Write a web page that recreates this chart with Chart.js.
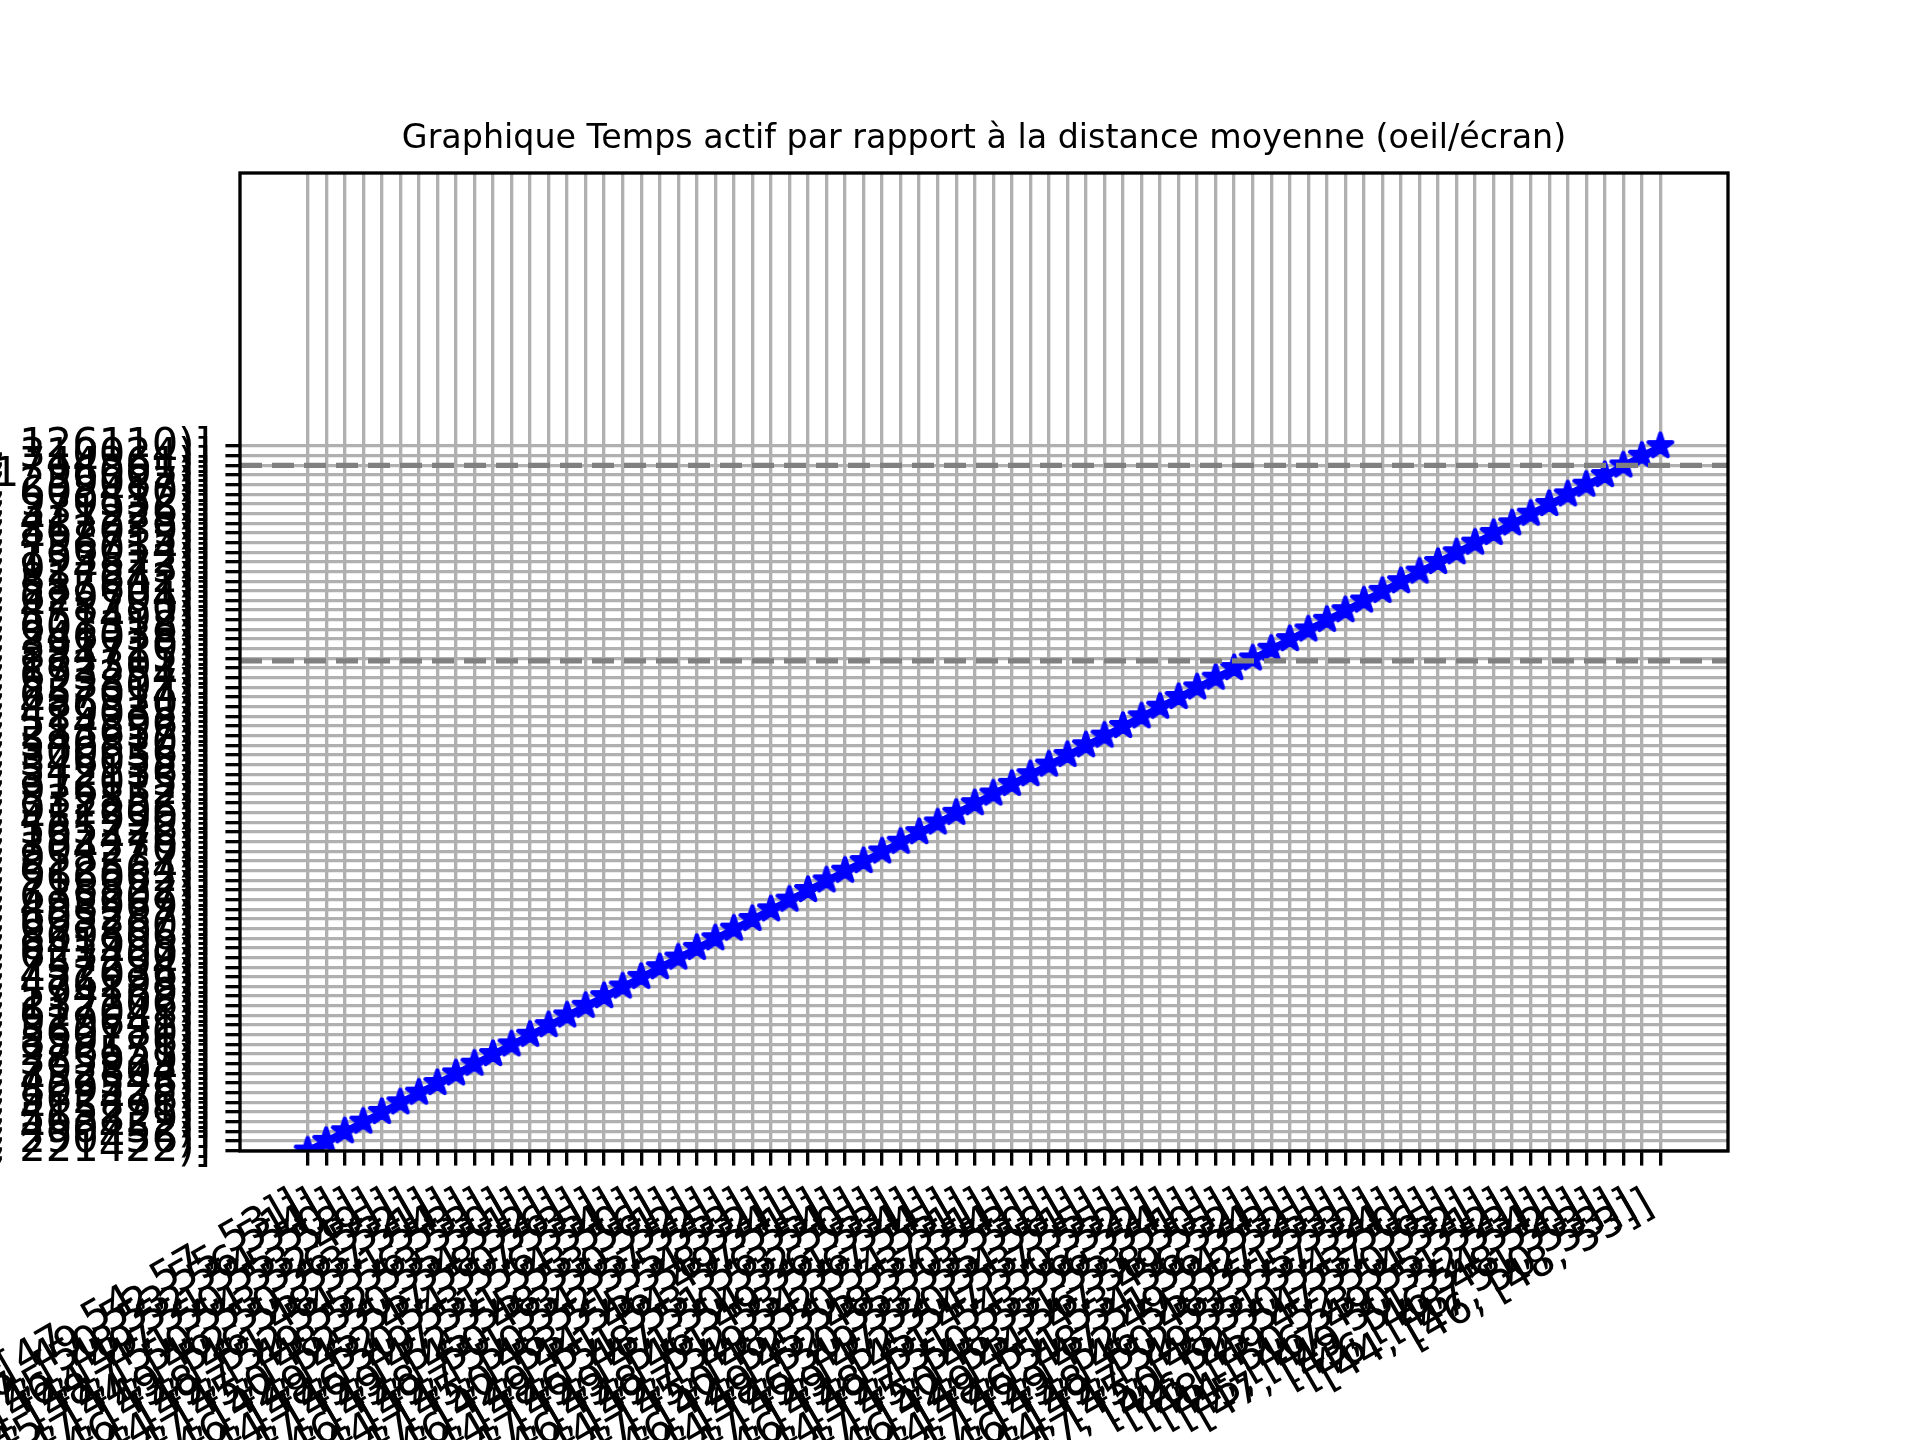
<!DOCTYPE html>
<html><head><meta charset="utf-8">
<script src="https://cdn.jsdelivr.net/npm/chart.js@4.4.1/dist/chart.umd.min.js"></script>
<style>html,body{margin:0;padding:0;background:#fff}canvas{display:block}</style>
</head><body>
<canvas id="c" width="1920" height="1440" style="width:1920px;height:1440px"></canvas>
<script>
const chartTitle = "Graphique Temps actif par rapport à la distance moyenne (oeil/écran)";

// x categories (tick labels), left to right
const xLabels = [
"[45, [47, 54, 57, 53]]","[44, [46, 49, 52, 55, 51]]","[47, [50, 53, 56, 54]]","[43, [45, 48, 52, 54, 50]]",
"[46, [49, 51, 55, 58]]","[42, [44, 47, 50, 53, 49]]","[48, [51, 54, 52, 55]]","[45, [47, 50, 53, 56, 52]]",
"[44, [46, 50, 53, 51]]","[47, [49, 52, 55, 57, 54]]","[43, [46, 48, 51, 53]]","[46, [48, 51, 54, 56, 53]]",
"[49, [52, 55, 53, 50]]","[44, [47, 49, 52, 55, 51]]","[45, [48, 50, 54, 52]]","[47, [50, 52, 55, 58, 56]]",
"[42, [45, 47, 50, 53]]","[46, [49, 52, 54, 57, 55]]","[48, [50, 53, 56, 54]]","[44, [46, 49, 51, 54, 50]]",
"[45, [47, 51, 53, 56]]","[47, [49, 52, 55, 53, 51]]","[43, [45, 48, 50, 52]]","[46, [48, 50, 53, 55, 52]]",
"[49, [51, 54, 57, 55]]","[44, [47, 50, 52, 55, 53]]","[45, [48, 51, 54, 52]]","[47, [50, 53, 55, 58, 54]]",
"[42, [44, 46, 49, 51]]","[46, [49, 51, 54, 57, 55]]","[48, [51, 53, 56, 54]]","[44, [46, 48, 51, 53, 50]]",
"[45, [47, 50, 52, 55]]","[47, [49, 51, 54, 56, 53]]","[43, [46, 49, 51, 54]]","[46, [48, 51, 53, 56, 54]]",
"[49, [52, 54, 57, 55]]","[44, [47, 49, 52, 54, 51]]","[45, [48, 50, 53, 51]]","[47, [50, 52, 55, 57, 54]]",
"[42, [45, 48, 50, 53]]","[46, [49, 52, 55, 53, 50]]","[48, [50, 53, 55, 58]]","[44, [46, 49, 52, 54, 51]]",
"[45, [47, 50, 53, 55]]","[47, [49, 52, 54, 57, 55]]","[43, [45, 47, 50, 52]]","[46, [48, 51, 54, 56, 52]]",
"[49, [51, 53, 56, 54]]","[44, [47, 50, 53, 55, 51]]","[45, [48, 51, 53, 50]]","[47, [50, 53, 56, 58, 55]]",
"[42, [44, 47, 49, 52]]","[46, [49, 51, 53, 56, 54]]","[48, [51, 54, 56, 53]]","[44, [46, 48, 51, 54, 52]]",
"[45, [47, 49, 52, 55]]","[47, [49, 52, 55, 57, 53]]","[43, [46, 48, 51, 53]]","[46, [48, 50, 53, 55, 52]]",
"[49, [52, 55, 57, 54]]","[44, [47, 49, 51, 54, 50]]","[45, [48, 50, 53, 56]]","[47, [50, 52, 54, 57, 55]]",
"[42, [45, 47, 50, 52]]","[46, [49, 52, 54, 51]]","[48, [50, 53, 55, 52]]","[44, [46, 49, 51, 53]]",
"[45, [47, 50, 52, 54]]","[47, [49, 51, 54, 52]]","[43, [46, 48, 50]]","[46, [48, 51, 53]]",
"[44, [47, 50, 53]]","[46, [48, 53]]"
];

// y categories (series values as tick labels), bottom to top
const yLabels = [
"[(38, 221422)]","[(41, 290456)]","[(36, 490452)]","[(44, 563829)]","[(39, 415291)]","[(47, 562476)]",
"[(42, 809525)]","[(35, 452548)]","[(46, 792804)]","[(40, 385929)]","[(43, 276551)]","[(37, 839176)]",
"[(45, 560780)]","[(41, 929641)]","[(48, 617048)]","[(39, 132206)]","[(44, 594169)]","[(36, 476298)]",
"[(47, 452036)]","[(42, 757294)]","[(38, 623400)]","[(45, 641998)]","[(40, 869806)]","[(43, 693260)]",
"[(37, 605287)]","[(46, 498969)]","[(41, 635207)]","[(44, 718822)]","[(39, 966062)]","[(47, 612564)]",
"[(42, 958237)]","[(36, 304270)]","[(45, 192476)]","[(40, 565226)]","[(43, 451990)]","[(38, 912206)]",
"[(46, 532852)]","[(41, 976132)]","[(44, 312015)]","[(37, 542136)]","[(47, 346055)]","[(42, 300636)]",
"[(39, 546810)]","[(45, 283657)]","[(40, 514396)]","[(43, 429035)]","[(38, 486320)]","[(46, 657014)]",
"[(41, 523807)]","[(44, 693254)]","[(36, 172301)]","[(47, 884715)]","[(42, 391720)]","[(39, 246038)]",
"[(45, 603318)]","[(40, 551492)]","[(43, 478250)]","[(37, 629704)]","[(46, 585601)]","[(41, 817642)]",
"[(44, 924573)]","[(38, 193822)]","[(47, 756014)]","[(42, 498715)]","[(39, 862039)]","[(45, 417223)]",
"[(40, 331926)]","[(43, 970532)]","[(36, 608410)]","[(46, 259087)]","[(41, 96005)]","[(44, 744361)]",
"[(48, 310024)]","[(52, 126110)]"
];

// dashed reference lines (y positions on the category axis)
const refLines = [71, 50.75];

const starImg = (() => {
  const c = document.createElement('canvas');
  c.width = 36; c.height = 36;
  const g = c.getContext('2d');
  const R = 12.5, r = R * 0.381966, cx = 18, cy = 18;
  g.beginPath();
  for (let k = 0; k < 10; k++) {
    const a = -Math.PI / 2 + k * Math.PI / 5;
    const rr = k % 2 === 0 ? R : r;
    const px = cx + rr * Math.cos(a), py = cy + rr * Math.sin(a);
    k === 0 ? g.moveTo(px, py) : g.lineTo(px, py);
  }
  g.closePath();
  g.fillStyle = '#0000ff'; g.fill();
  g.lineJoin = 'round'; g.lineWidth = 4.2; g.strokeStyle = '#0000ff'; g.stroke();
  return c;
})();

const FONT = 'DejaVu Sans';
const PT = 300 / 72;

const decor = {
  id: 'decor',
  beforeDraw(chart) {
    const ctx = chart.ctx;
    ctx.save(); ctx.fillStyle = '#fff'; ctx.fillRect(0, 0, chart.width, chart.height); ctx.restore();
  },
  afterDatasetsDraw(chart) {
    const ctx = chart.ctx, a = chart.chartArea, ys = chart.scales.y;
    ctx.save();
    ctx.beginPath(); ctx.rect(a.left, a.top, a.right - a.left, a.bottom - a.top); ctx.clip();
    ctx.strokeStyle = '#808080'; ctx.lineWidth = 1.5 * PT * 0.85; ctx.setLineDash([22, 10]);
    refLines.forEach(v => {
      const py = ys.getPixelForValue(v);
      ctx.beginPath(); ctx.moveTo(a.left, py); ctx.lineTo(a.right, py); ctx.stroke();
    });
    ctx.restore();
  },
  afterDraw(chart) {
    const ctx = chart.ctx, a = chart.chartArea;
    ctx.save();
    ctx.strokeStyle = '#000'; ctx.lineWidth = 0.8 * PT; ctx.setLineDash([]);
    ctx.strokeRect(a.left, a.top, a.right - a.left, a.bottom - a.top);
    ctx.fillStyle = '#000'; ctx.font = (8 * PT).toFixed(1) + 'px "' + FONT + '"';
    ctx.textAlign = 'center'; ctx.textBaseline = 'alphabetic';
    ctx.fillText(chartTitle, (a.left + a.right) / 2, 148);
    ctx.restore();
  }
};

const gridOpts = { color: '#b0b0b0', lineWidth: 0.8 * PT, tickColor: '#000', tickWidth: 0.8 * PT, tickLength: 3.5 * PT };
const tickFont = { family: FONT, size: 10 * PT };

new Chart(document.getElementById('c'), {
  type: 'line',
  data: {
    datasets: [{
      data: xLabels.map((_, i) => ({ x: i, y: i })),
      borderColor: '#0000ff',
      backgroundColor: '#0000ff',
      borderWidth: 6,
      pointStyle: starImg,
      pointRadius: 13,
      clip: 0,
      tension: 0
    }]
  },
  options: {
    responsive: false,
    animation: false,
    devicePixelRatio: 1,
    layout: { padding: { top: 173, right: 192, left: 0, bottom: 0 } },
    plugins: { legend: { display: false }, title: { display: false }, tooltip: { enabled: false } },
    scales: {
      x: {
        type: 'linear', min: -3.65, max: 76.65,
        afterBuildTicks: s => { s.ticks = xLabels.map((_, i) => ({ value: i })); },
        afterFit: s => { s.height = 289; s.paddingLeft = 0; s.paddingRight = 0; },
        ticks: { autoSkip: false, minRotation: 30, maxRotation: 30, padding: 3.5 * PT, labelOffset: -10, color: '#000', font: tickFont,
                 callback: (v, i) => xLabels[i] },
        grid: gridOpts,
        border: { display: false }
      },
      y: {
        type: 'linear', min: -0.05, max: 101.3,
        afterBuildTicks: s => { s.ticks = yLabels.map((_, i) => ({ value: i })); },
        afterFit: s => { s.width = 240; s.paddingTop = 0; s.paddingBottom = 0; },
        ticks: { autoSkip: false, padding: 3.5 * PT, color: '#000', font: tickFont,
                 callback: (v, i) => yLabels[i] },
        grid: gridOpts,
        border: { display: false }
      }
    }
  },
  plugins: [decor]
});
</script>
</body></html>
